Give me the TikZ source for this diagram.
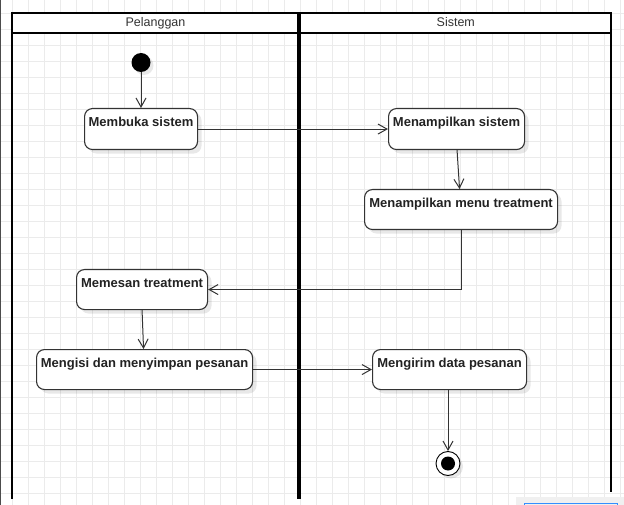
\documentclass[tikz,border=0pt]{standalone}
\usepackage{fontspec}
\setmainfont{Liberation Sans}
\usetikzlibrary{arrows.meta,shadows}
\definecolor{gridc}{HTML}{EBEBEB}
\definecolor{edgec}{HTML}{333333}
\definecolor{textc}{HTML}{222222}
\begin{document}
\begin{tikzpicture}[x=1pt,y=-1pt,
  act/.style={draw=edgec, line width=1.1pt, rounded corners=8pt, fill=white,
    inner sep=0pt, anchor=north west, text=textc,
    font=\bfseries\fontsize{13}{15}\selectfont, text height=18pt,
    drop shadow={shadow xshift=4pt, shadow yshift=-4pt, fill=black, opacity=0.09}},
  flow/.style={draw=edgec, line width=1pt, -{Straight Barb[length=9pt,width=10pt,line width=1pt]}},
  lane/.style={draw=black, line width=2pt},
  hdr/.style={anchor=base, text=black!80, font=\fontsize{12.5}{15}\selectfont}]
\useasboundingbox (0,0) rectangle (624,505);
\fill[white] (0,0) rectangle (624,505);
% grid
\foreach \gx in {-4,12,...,620} \draw[gridc, line width=0.8pt] (\gx,0) -- (\gx,505);
\foreach \gy in {-3,13,...,505} \draw[gridc, line width=0.8pt] (0,\gy) -- (624,\gy);
% left window edge
\draw[black!70, line width=1.2pt] (0.6,0) -- (0.6,505);
% pool
\fill[white] (12,13) rectangle (611,33);
\draw[lane] (12,499) -- (12,13) -- (611,13) -- (611,492);
\draw[lane] (12,33) -- (611,33);
\draw[lane, line width=3.5pt] (299,13) -- (299,499);
\node[hdr] (h1) at (155.5,26.7) {Pelanggan};
\node[hdr] (h2) at (455.8,26.7) {Sistem};
% activities
\node[circle, fill=black, minimum size=19pt, inner sep=0pt,
  drop shadow={shadow xshift=3pt, shadow yshift=-3pt, fill=black, opacity=0.09}] (start) at (141,62.5) {};
\node[act, minimum width=113pt, text depth=23pt] (a1) at (84,108) {Membuka sistem};
\node[act, minimum width=136pt, text depth=23pt] (a2) at (388,108) {Menampilkan sistem};
\node[act, minimum width=193pt, text depth=22pt] (a3) at (364,189) {Menampilkan menu treatment};
\node[act, minimum width=131pt, text depth=22pt] (a4) at (76,269) {Memesan treatment};
\node[act, minimum width=216pt, text depth=22pt] (a5) at (36,349) {Mengisi dan menyimpan pesanan};
\node[act, minimum width=154pt, text depth=22pt] (a6) at (372,349) {Mengirim data pesanan};
\node[circle, draw=black, line width=0.9pt, fill=white, minimum size=24pt, inner sep=0pt,
  drop shadow={shadow xshift=3pt, shadow yshift=-3pt, fill=black, opacity=0.09}] (fin) at (448,463.5) {};
\node[circle, fill=black, minimum size=14pt, inner sep=0pt] (finin) at (fin.center) {};
% flows
\draw[flow] (start) -- (a1.north -| start);
\draw[flow] (a1.east) -- (a2.west);
\draw[flow] ([xshift=0.5pt]a2.south) -- ([xshift=-1.5pt]a3.north);
\draw[flow] (a3.south) |- (a4.east);
\draw[flow] (a4.south) -- ([xshift=-1pt]a5.north);
\draw[flow] (a5.east) -- (a6.west);
\draw[flow] (a6.south -| fin) -- (fin.north);
% bottom-right artifact
\fill[black!6] (516,497) rectangle (624,505);
\draw[blue!55!cyan!80, line width=1pt] (524,505) -- (524,503) -- (617,503) -- (617,505);
\end{tikzpicture}
\end{document}
